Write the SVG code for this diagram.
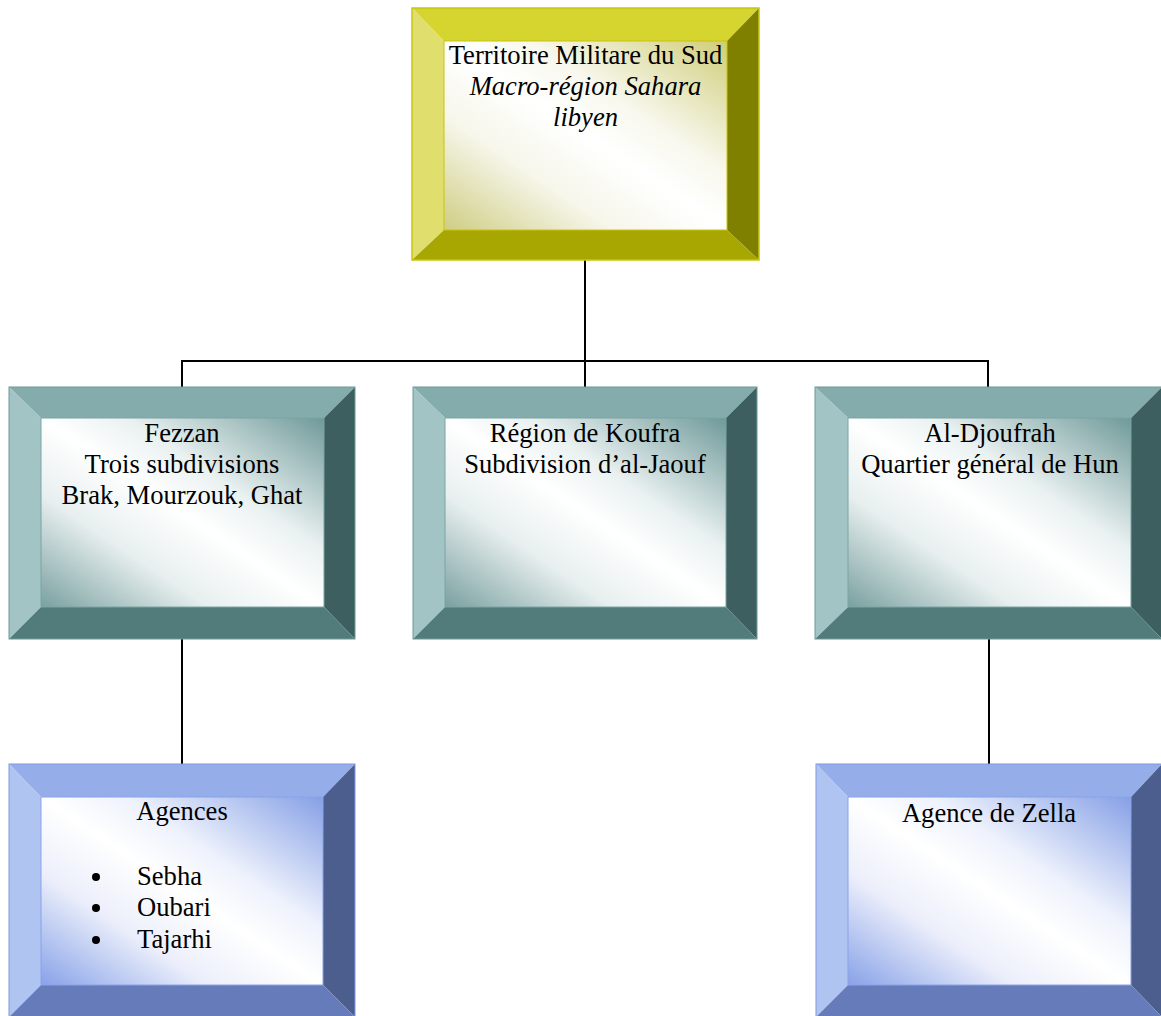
<svg xmlns="http://www.w3.org/2000/svg" width="1161" height="1016" viewBox="0 0 1161 1016">
<defs>
<linearGradient id="gy" x1="1" y1="0" x2="0" y2="1"><stop offset="0" stop-color="#cfcd78"/><stop offset="0.35" stop-color="#f8f8ee"/><stop offset="0.5" stop-color="#ffffff"/><stop offset="0.7" stop-color="#f6f6ea"/><stop offset="1" stop-color="#cfcd82"/></linearGradient>
<linearGradient id="gt" x1="1" y1="0" x2="0" y2="1"><stop offset="0" stop-color="#6f9999"/><stop offset="0.35" stop-color="#eaf1f1"/><stop offset="0.5" stop-color="#ffffff"/><stop offset="0.7" stop-color="#e8efef"/><stop offset="1" stop-color="#7aa0a0"/></linearGradient>
<linearGradient id="gb" x1="1" y1="0" x2="0" y2="1"><stop offset="0" stop-color="#86a0e6"/><stop offset="0.35" stop-color="#eef2fc"/><stop offset="0.5" stop-color="#ffffff"/><stop offset="0.7" stop-color="#eceffb"/><stop offset="1" stop-color="#88a2e8"/></linearGradient>
<style>
text{font-family:"Liberation Serif","Times New Roman",serif;font-size:26.6px;fill:#000;text-anchor:middle}
.it{font-style:italic}
.l{text-anchor:start}
.conn{stroke:#000;stroke-width:2;fill:none}
.y .t{fill:#d6d42e}.y .lf{fill:#e0de6c}.y .r{fill:#808000}.y .b{fill:#a8a600}.y .o{fill:none;stroke:#c8c410;stroke-width:1.5}.y .in{fill:url(#gy);stroke:#c8c410;stroke-width:1}
.g .t{fill:#84acac}.g .lf{fill:#a2c4c4}.g .r{fill:#3e5f5f}.g .b{fill:#527b7b}.g .o{fill:none;stroke:#6e9a9a;stroke-width:1}.g .in{fill:url(#gt);stroke:#7aa4a4;stroke-width:1}
.bl .t{fill:#95aeea}.bl .lf{fill:#b0c4f2}.bl .r{fill:#4b5e8d}.bl .b{fill:#667cba}.bl .o{fill:none;stroke:#7e98e0;stroke-width:1}.bl .in{fill:url(#gb);stroke:#8aa2e8;stroke-width:1}
</style>
</defs>
<g id="connectors">
<path class="conn" d="M585,260 V361"/>
<path class="conn" d="M182,387 V361 H988 V387"/>
<path class="conn" d="M585,361 V387"/>
<path class="conn" d="M182,639 V764"/>
<path class="conn" d="M989,639 V764"/>
</g>
<g id="n-territoire" class="y">
<polygon class="t" points="412,8 759,8 727,41 444,41"/>
<polygon class="lf" points="412,8 444,41 444,230 412,260"/>
<polygon class="r" points="759,8 759,260 727,230 727,41"/>
<polygon class="b" points="412,260 444,230 727,230 759,260"/>
<rect class="in" x="444" y="41" width="283" height="189"/>
<rect class="o" x="412" y="8" width="347" height="252"/>
<text x="585.5" y="64">Territoire Militare du Sud</text>
<text class="it" x="585.5" y="95">Macro-région Sahara</text>
<text class="it" x="585.5" y="126">libyen</text>
</g>
<g id="n-fezzan" class="g">
<polygon class="t" points="9,387 355,387 324,418 41,418"/>
<polygon class="lf" points="9,387 41,418 41,607 9,639"/>
<polygon class="r" points="355,387 355,639 324,607 324,418"/>
<polygon class="b" points="9,639 41,607 324,607 355,639"/>
<rect class="in" x="41" y="418" width="283" height="189"/>
<rect class="o" x="9" y="387" width="346" height="252"/>
<text x="182" y="442">Fezzan</text>
<text x="182" y="473">Trois subdivisions</text>
<text x="182" y="504">Brak, Mourzouk, Ghat</text>
</g>
<g id="n-koufra" class="g">
<polygon class="t" points="413,387 757,387 726,418 445,418"/>
<polygon class="lf" points="413,387 445,418 445,607 413,639"/>
<polygon class="r" points="757,387 757,639 726,607 726,418"/>
<polygon class="b" points="413,639 445,607 726,607 757,639"/>
<rect class="in" x="445" y="418" width="281" height="189"/>
<rect class="o" x="413" y="387" width="344" height="252"/>
<text x="585" y="442">Région de Koufra</text>
<text x="585" y="473">Subdivision d’al-Jaouf</text>
</g>
<g id="n-djoufrah" class="g">
<polygon class="t" points="815,387 1162,387 1131,418 848,418"/>
<polygon class="lf" points="815,387 848,418 848,607 815,639"/>
<polygon class="r" points="1162,387 1162,639 1131,607 1131,418"/>
<polygon class="b" points="815,639 848,607 1131,607 1162,639"/>
<rect class="in" x="848" y="418" width="283" height="189"/>
<rect class="o" x="815" y="387" width="347" height="252"/>
<text x="990" y="442">Al-Djoufrah</text>
<text x="990" y="473">Quartier général de Hun</text>
</g>
<g id="n-agences" class="bl">
<polygon class="t" points="9,764 355,764 323,797 41,797"/>
<polygon class="lf" points="9,764 41,797 41,985 9,1017"/>
<polygon class="r" points="355,764 355,1017 323,985 323,797"/>
<polygon class="b" points="9,1017 41,985 323,985 355,1017"/>
<rect class="in" x="41" y="797" width="282" height="188"/>
<rect class="o" x="9" y="764" width="346" height="253"/>
<text x="182" y="820">Agences</text>
<circle cx="96" cy="877" r="4"/>
<circle cx="96" cy="908" r="4"/>
<circle cx="96" cy="940" r="4"/>
<text class="l" x="137" y="885">Sebha</text>
<text class="l" x="137" y="916">Oubari</text>
<text class="l" x="137" y="948">Tajarhi</text>
</g>
<g id="n-zella" class="bl">
<polygon class="t" points="816,764 1162,764 1131,797 848,797"/>
<polygon class="lf" points="816,764 848,797 848,985 816,1017"/>
<polygon class="r" points="1162,764 1162,1017 1131,985 1131,797"/>
<polygon class="b" points="816,1017 848,985 1131,985 1162,1017"/>
<rect class="in" x="848" y="797" width="283" height="188"/>
<rect class="o" x="816" y="764" width="346" height="253"/>
<text x="989" y="822">Agence de Zella</text>
</g>
</svg>
